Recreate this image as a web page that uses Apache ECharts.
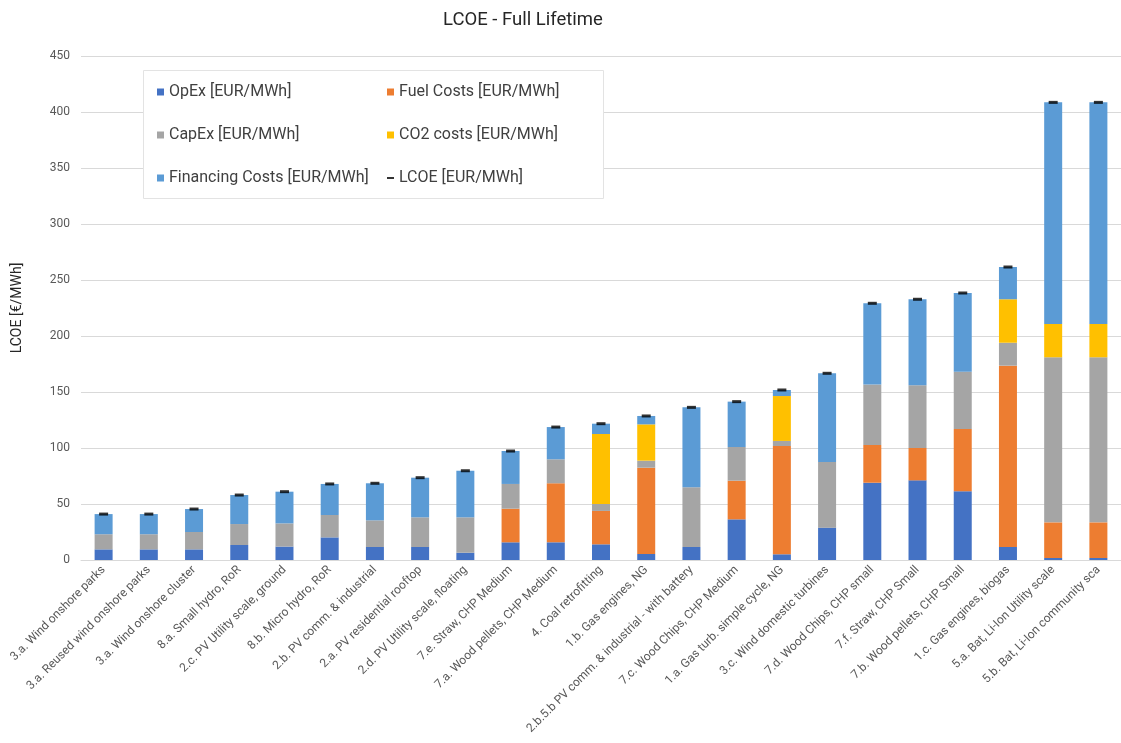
<!DOCTYPE html>
<html>
<head>
<meta charset="utf-8">
<title>LCOE - Full Lifetime</title>
<script src="https://cdn.jsdelivr.net/npm/echarts@6/dist/echarts.min.js"></script>
<style>
  html, body { margin: 0; padding: 0; background: #ffffff; }
  #chart { width: 1121px; height: 743px; }
</style>
</head>
<body>
<div id="chart"></div>
<script>
// Technologies, ordered by total levelised cost
const categories = [
  '3.a. Wind onshore parks',
  '3.a. Reused wind onshore parks',
  '3.a. Wind onshore cluster',
  '8.a. Small hydro, RoR',
  '2.c. PV Utility scale, ground',
  '8.b. Micro hydro, RoR',
  '2.b. PV comm. & industrial',
  '2.a. PV residential rooftop',
  '2.d. PV Utility scale, floating',
  '7.e. Straw, CHP Medium',
  '7.a. Wood pellets, CHP Medium',
  '4. Coal retrofitting',
  '1.b. Gas engines, NG',
  '2.b.5.b PV comm. & industrial - with battery',
  '7.c. Wood Chips, CHP Medium',
  '1.a. Gas turb. simple cycle, NG',
  '3.c. Wind domestic turbines',
  '7.d. Wood Chips, CHP small',
  '7.f. Straw, CHP Small',
  '7.b. Wood pellets, CHP Small',
  '1.c. Gas engines, biogas',
  '5.a. Bat, Li-Ion Utility scale',
  '5.b. Bat, Li-Ion community sca'
];

// Cost components in EUR/MWh
const opex      = [9.5, 9.5, 9.5, 13.4, 12.0, 20.2, 11.6, 11.6, 6.5, 15.8, 15.8, 14.0, 5.4, 11.6, 36.3, 5.1, 28.9, 69.0, 71.1, 61.3, 11.6, 1.8, 1.8];
const fuel      = [0, 0, 0, 0, 0, 0, 0, 0, 0, 30.0, 52.7, 29.8, 77.0, 0, 34.5, 96.7, 0, 33.7, 28.9, 55.7, 161.9, 31.8, 31.8];
const capex     = [13.5, 13.5, 15.5, 18.7, 20.7, 20.0, 23.8, 26.5, 31.6, 22.1, 21.4, 6.2, 6.3, 53.3, 30.1, 4.5, 58.6, 54.1, 56.0, 51.1, 20.5, 147.4, 147.4];
const co2       = [0, 0, 0, 0, 0, 0, 0, 0, 0, 0, 0, 62.5, 32.4, 0, 0, 40.1, 0, 0, 0, 0, 38.8, 29.7, 29.7];
const financing = [18.0, 18.0, 20.5, 25.9, 28.3, 27.7, 33.1, 35.4, 41.6, 29.4, 28.8, 9.2, 7.5, 71.4, 40.5, 5.4, 79.2, 72.4, 76.8, 70.3, 28.8, 197.9, 197.9];
const lcoe      = [41.0, 41.0, 45.5, 58.0, 61.0, 67.9, 68.5, 73.5, 79.7, 97.3, 118.7, 121.7, 128.6, 136.3, 141.4, 151.8, 166.7, 229.2, 232.8, 238.4, 261.6, 408.6, 408.6];

// Value axis ticks
const yTicks = [0, 50, 100, 150, 200, 250, 300, 350, 400, 450];

const names = {
  opex: 'OpEx [EUR/MWh]',
  fuel: 'Fuel Costs [EUR/MWh]',
  capex: 'CapEx [EUR/MWh]',
  co2: 'CO2 costs [EUR/MWh]',
  fin: 'Financing Costs [EUR/MWh]',
  lcoe: 'LCOE [EUR/MWh]'
};

const colors = {
  opex: '#4472C4',
  fuel: '#ED7D31',
  capex: '#A5A5A5',
  co2: '#FFC000',
  fin: '#5B9BD5'
};

const FONT = 'Roboto, "Liberation Sans", Arial, sans-serif';

function stackBar(name, data, color) {
  return {
    name: name,
    type: 'bar',
    stack: 'cost',
    barWidth: 18,
    data: data,
    itemStyle: { color: color },
    emphasis: { disabled: true }
  };
}

const legendText = { fontFamily: FONT, fontSize: 16, lineHeight: 16, color: '#404040' };

function legendColumn(left, top, items, iconHeight) {
  return {
    orient: 'vertical',
    left: left,
    top: top,
    padding: 0,
    itemGap: 27,
    itemWidth: 7,
    itemHeight: iconHeight,
    icon: 'rect',
    textStyle: legendText,
    data: items,
    z: 10
  };
}

const chart = echarts.init(document.getElementById('chart'), null, { renderer: 'canvas' });

chart.setOption({
  backgroundColor: '#ffffff',
  animation: false,
  title: {
    text: 'LCOE - Full Lifetime',
    left: 438,
    top: 6,
    textStyle: { fontFamily: FONT, fontSize: 18.5, fontWeight: 'normal', color: '#262626' }
  },
  graphic: [{
    type: 'rect',
    left: 143,
    top: 70,
    shape: { width: 460, height: 128 },
    style: { fill: '#ffffff', stroke: '#e3e3e3', lineWidth: 1 },
    z: 5
  }],
  legend: [
    legendColumn(157, 84, [names.opex, names.capex, names.fin], 7),
    legendColumn(387, 84, [names.fuel, names.co2], 7),
    legendColumn(387, 170, [names.lcoe], 2)
  ],
  grid: {
    left: 81,
    top: 56,
    width: 1042,
    bottom: 183,
    containLabel: false
  },
  xAxis: {
    type: 'category',
    data: categories,
    axisLine: { show: true, lineStyle: { color: '#d9d9d9', width: 1 } },
    axisTick: { show: false },
    axisLabel: {
      interval: 0,
      rotate: 45,
      margin: 8,
      fontFamily: FONT,
      fontSize: 12,
      color: '#595959'
    }
  },
  yAxis: {
    type: 'value',
    min: yTicks[0],
    max: yTicks[yTicks.length - 1],
    interval: yTicks[1] - yTicks[0],
    name: 'LCOE [€/MWh]',
    nameLocation: 'middle',
    nameRotate: 90,
    nameGap: 57,
    nameTextStyle: { fontFamily: FONT, fontSize: 14, color: '#262626' },
    axisLine: { show: false },
    axisTick: { show: false },
    axisLabel: {
      margin: 11,
      fontFamily: FONT,
      fontSize: 12,
      color: '#595959'
    },
    splitLine: { lineStyle: { color: '#d9d9d9', width: 1 } }
  },
  series: [
    stackBar(names.opex, opex, colors.opex),
    stackBar(names.fuel, fuel, colors.fuel),
    stackBar(names.capex, capex, colors.capex),
    stackBar(names.co2, co2, colors.co2),
    stackBar(names.fin, financing, colors.fin),
    {
      name: names.lcoe,
      type: 'scatter',
      data: lcoe,
      symbol: 'rect',
      symbolSize: [9, 3],
      itemStyle: { color: '#000000' },
      z: 5,
      emphasis: { disabled: true }
    }
  ]
});
</script>
</body>
</html>
